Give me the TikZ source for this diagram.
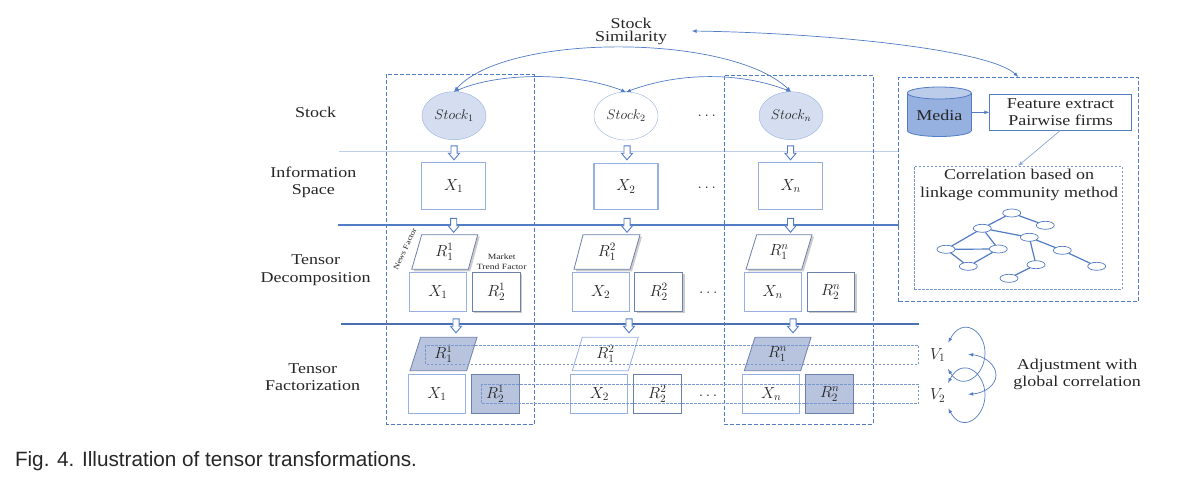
\documentclass[tikz,border=0pt]{standalone}
\usepackage{fix-cm}
\usepackage{fontspec}
\setmainfont[FakeStretch=1.2]{Liberation Serif}
\newfontfamily\capfont{Liberation Sans}
\usetikzlibrary{shapes.geometric,shapes.arrows,shadows}
\definecolor{lineblue}{RGB}{82,124,196}
\definecolor{softblue}{RGB}{150,176,224}
\definecolor{paleblue}{RGB}{212,222,240}
\definecolor{darkcell}{RGB}{184,196,222}
\definecolor{cellrim}{RGB}{108,128,172}
\definecolor{rowblue}{RGB}{122,152,208}
\tikzset{
	every node/.style={inner sep=0pt,outer sep=0pt,text=black!85},
	label/.style={align=center,font=\fontsize{15}{17.3}\selectfont},
	tiny/.style={align=center,font=\fontsize{8}{9.5}\selectfont},
	math/.style={font=\fontsize{16}{18}\selectfont},
	stockc/.style={ellipse,draw=softblue,minimum width=64,minimum height=48,font=\fontsize{14}{16}\selectfont},
	infobox/.style={draw=softblue,line width=1.2pt,minimum width=64,minimum height=46.5,math},
	xbox/.style={draw=softblue,line width=1.2pt,minimum width=57,minimum height=39,math},
	rbox/.style={draw=cellrim,line width=0.8pt,minimum width=47.7,minimum height=39,math},
	shadowed/.style={drop shadow={shadow xshift=2pt,shadow yshift=-2pt,opacity=0.4}},
	dashbox/.style={draw=lineblue,line width=0.8pt,dash pattern=on 4pt off 2pt},
	dotbox/.style={draw=rowblue,line width=0.8pt,dash pattern=on 2.5pt off 1.5pt},
	hollow/.style={single arrow,draw=lineblue,fill=white,line width=0.9pt,shape border rotate=270,inner sep=2.6pt,minimum height=14,minimum width=10.5,single arrow head extend=2.5,single arrow tip angle=80},
	linkline/.style={draw=lineblue,line width=0.7pt,latex-latex},
	para/.style={draw=cellrim,line width=0.8pt,fill=white},
	netnode/.style={ellipse,draw=lineblue,fill=white,line width=0.7pt,minimum width=18,minimum height=8},
	netedge/.style={draw=lineblue,line width=1.2pt},
}
\begin{document}
\begin{tikzpicture}[x=1pt,y=-1pt]
	\useasboundingbox (0,0) rectangle (1178,491);
	% separators
	\draw [softblue!60, line width=0.8pt] (339,151.5) -- (899,151.5);
	\draw [lineblue, line width=1.1pt] (338,225) -- (899,225);
	\draw [lineblue!90!black, line width=1.1pt] (341,324) -- (919,324);
	% row labels
	\node (stocklabel) [label] at (315.7,112) {Stock};
	\node (infolabel) [label] at (313.3,182.3) {Information\\Space};
	\node (declabel) [label] at (315.7,270.3) {Tensor\\Decomposition};
	\node (factlabel) [label] at (312.7,377.5) {Tensor\\Factorization};
	\node (simil) [label, font=\fontsize{15}{12.7}\selectfont] at (631,31.3) {Stock\\Similarity};
	% stocks
	\node (stock1) [stockc, fill=paleblue] at (454,115.7) {$Stock_1$};
	\node (stock2) [stockc] at (626,116) {$Stock_2$};
	\node (stockn) [stockc, fill=paleblue] at (791,115.7) {$Stock_n$};
	\node (dots1) [math] at (706.7,116) {$\dots$};
	% information space
	\node (info1) [infobox] at (453.7,186) {$X_1$};
	\node (info2) [infobox] at (626,186.6) {$X_2$};
	\node (infon) [infobox] at (790.8,186) {$X_n$};
	\node (dots2) [math] at (706.7,188) {$\dots$};
	% tensor decomposition
	\draw [para, shadowed] (421.7,234.7) -- (477.7,234.7) -- (468.3,269.3) -- (411.7,269.3) -- cycle;
	\draw [para, shadowed] (583,234.7) -- (640,234.7) -- (630,269.3) -- (574,269.3) -- cycle;
	\draw [para, shadowed] (756.7,234.7) -- (812,234.7) -- (801.7,269.3) -- (746,269.3) -- cycle;
	\node (dec11) [math] at (444.5,252) {$R_1^1$};
	\node (dec12) [math] at (607,252) {$R_1^2$};
	\node (dec1n) [math] at (779,252) {$R_1^n$};
	\node (decx1) [xbox] at (438,291.8) {$X_1$};
	\node (decx2) [xbox] at (600.7,291.8) {$X_2$};
	\node (decxn) [xbox] at (772.7,291.8) {$X_n$};
	\node (dec21) [rbox, fill=white, shadowed] at (496.2,291.8) {$R_2^1$};
	\node (dec22) [rbox, fill=white, shadowed] at (658.7,291.8) {$R_2^2$};
	\node (dec2n) [rbox, fill=white, shadowed] at (830.8,291.8) {$R_2^n$};
	\node (dots3) [math] at (708.3,293) {$\dots$};
	\node (newsf) [tiny, font=\fontsize{7.5}{9}\selectfont, rotate=65] at (405,249) {News Factor};
	\node (marketf) [tiny] at (501.7,262) {Market\\Trend Factor};
	% tensor factorization
	\draw [para, fill=darkcell] (420.7,337.3) -- (477,337.3) -- (466.7,370.7) -- (410,370.7) -- cycle;
	\draw [para, draw=softblue] (582.3,337.3) -- (638.3,337.3) -- (628.3,370.7) -- (572.3,370.7) -- cycle;
	\draw [para, fill=darkcell] (755,337.3) -- (811,337.3) -- (800.7,370.7) -- (744.3,370.7) -- cycle;
	\node (fac11) [math] at (443.5,354) {$R_1^1$};
	\node (fac12) [math] at (605.5,354) {$R_1^2$};
	\node (fac1n) [math] at (777.5,354) {$R_1^n$};
	\node (facx1) [xbox] at (437,394) {$X_1$};
	\node (facx2) [xbox] at (599.3,394) {$X_2$};
	\node (facxn) [xbox] at (771.3,394) {$X_n$};
	\node (fac21) [rbox, fill=darkcell] at (495.2,394) {$R_2^1$};
	\node (fac22) [rbox] at (657.3,394) {$R_2^2$};
	\node (fac2n) [rbox, fill=darkcell] at (829.7,394) {$R_2^n$};
	\node (dots4) [math] at (708,396) {$\dots$};
	% hollow arrows
	\node (arrow11) [hollow] at (454,151) {};
	\node (arrow12) [hollow] at (627,151) {};
	\node (arrow1n) [hollow] at (790.5,151) {};
	\node (arrow21) [hollow] at (453.7,223.5) {};
	\node (arrow22) [hollow] at (627,223.5) {};
	\node (arrow2n) [hollow] at (790.5,223.5) {};
	\node (arrow31) [hollow] at (456,324) {};
	\node (arrow32) [hollow] at (629,324) {};
	\node (arrow3n) [hollow] at (793,324) {};
	% dashed groups
	\draw [dashbox] (386.5,74) rectangle (534,424);
	\draw [dashbox] (724,75.7) rectangle (873,424);
	\draw [dotbox] (425.7,345) rectangle (918.7,364);
	\draw [dotbox] (481.7,384.3) rectangle (918.7,403.7);
	% media panel
	\node (panel) [dashbox, minimum width=239.3, minimum height=224.7] at (1018.35,189.35) {};
	\draw [lineblue, line width=0.8pt, fill=softblue] (939.3,130.5) ellipse (32 and 6);
	\fill [softblue] (907.7,93) rectangle (970.9,130.5);
	\draw [lineblue, line width=0.8pt] (907.3,93) -- (907.3,130.5) (971.3,93) -- (971.3,130.5);
	\draw [lineblue, line width=0.8pt, fill=softblue!65] (939.3,93) ellipse (32 and 6);
	\node (media) [label, minimum width=64, minimum height=37] at (939.3,115) {Media};
	\node (feature) [label, draw=lineblue, line width=0.8pt, minimum width=142.4, minimum height=36] at (1060.5,112.3) {Feature extract\\Pairwise firms};
	\node (corr) [dotbox, minimum width=208, minimum height=123] at (1018,227.5) {};
	\node (corrtext) [label] at (1019,185) {Correlation based on\\linkage community method};
	\draw [draw=lineblue, line width=0.7pt, -latex] (media.east |- feature.west) -- (feature.west);
	\draw [draw=softblue!80!lineblue, line width=0.7pt, -latex] (feature.south) -- (corr.north);
	% network
	\node (net1) [netnode] at (1011.7,213) {};
	\node (net2) [netnode] at (1045.3,225.3) {};
	\node (net3) [netnode] at (982.3,228.3) {};
	\node (net4) [netnode] at (1029.3,237.3) {};
	\node (net5) [netnode] at (946,249.3) {};
	\node (net6) [netnode] at (998.3,249) {};
	\node (net7) [netnode] at (1062.3,250.3) {};
	\node (net8) [netnode] at (968.3,266.3) {};
	\node (net9) [netnode] at (1036,264.7) {};
	\node (net10) [netnode] at (1096.7,266.3) {};
	\node (net11) [netnode] at (1009,278.3) {};
	\draw [netedge] (net3) -- (net1);
	\draw [netedge] (net1) -- (net2);
	\draw [netedge] (net3) -- (net5);
	\draw [netedge] (net3) -- (net6);
	\draw [netedge] (net3) -- (net4);
	\draw [netedge] (net5) -- (net6);
	\draw [netedge] (net5) -- (net8);
	\draw [netedge] (net6) -- (net8);
	\draw [netedge] (net4) -- (net7);
	\draw [netedge] (net4) -- (net9);
	\draw [netedge] (net9) -- (net11);
	\draw [netedge] (net7) -- (net10);
	% similarity links
	\coordinate (similend) at (691.7,31);
	\draw [linkline] (stock1.north) .. controls (505,33) and (730,33) .. (stockn.north);
	\draw [linkline] (stock1.north) .. controls (500,72) and (575,72) .. (stock2.north);
	\draw [linkline] (stock2.north) .. controls (680,72) and (740,72) .. (stockn.north);
	\draw [linkline] (similend) .. controls (830,33) and (990,50) .. (panel.north);
	% global correlation
	\node (v1) [math] at (937.7,355) {$V_1$};
	\node (v2) [math] at (937.7,395.7) {$V_2$};
	\node (adjust) [label] at (1077,374.5) {Adjustment with\\global correlation};
	\coordinate (loopa) at (948.3,342.7);
	\coordinate (loopb) at (948,369);
	\coordinate (loopc) at (948,383);
	\coordinate (loopd) at (948.3,408.3);
	\coordinate (loope) at (968.3,354.3);
	\coordinate (loopf) at (968.3,394.3);
	\draw [linkline] (loopa) .. controls (962,316) and (985,330) .. (985,353) .. controls (985,376) and (962,392) .. (loopb);
	\draw [linkline] (loopc) .. controls (962,356) and (985,372) .. (985,395) .. controls (985,418) and (962,434) .. (loopd);
	\draw [linkline] (loope) .. controls (985,356) and (996,365) .. (996,375) .. controls (996,385) and (985,393) .. (loopf);
	% caption
	\node (caption) [anchor=west, font=\capfont\fontsize{20.7}{24}\selectfont, text=black!85] at (15,461) {Fig. 4. Illustration of tensor transformations.};
\end{tikzpicture}
\end{document}
